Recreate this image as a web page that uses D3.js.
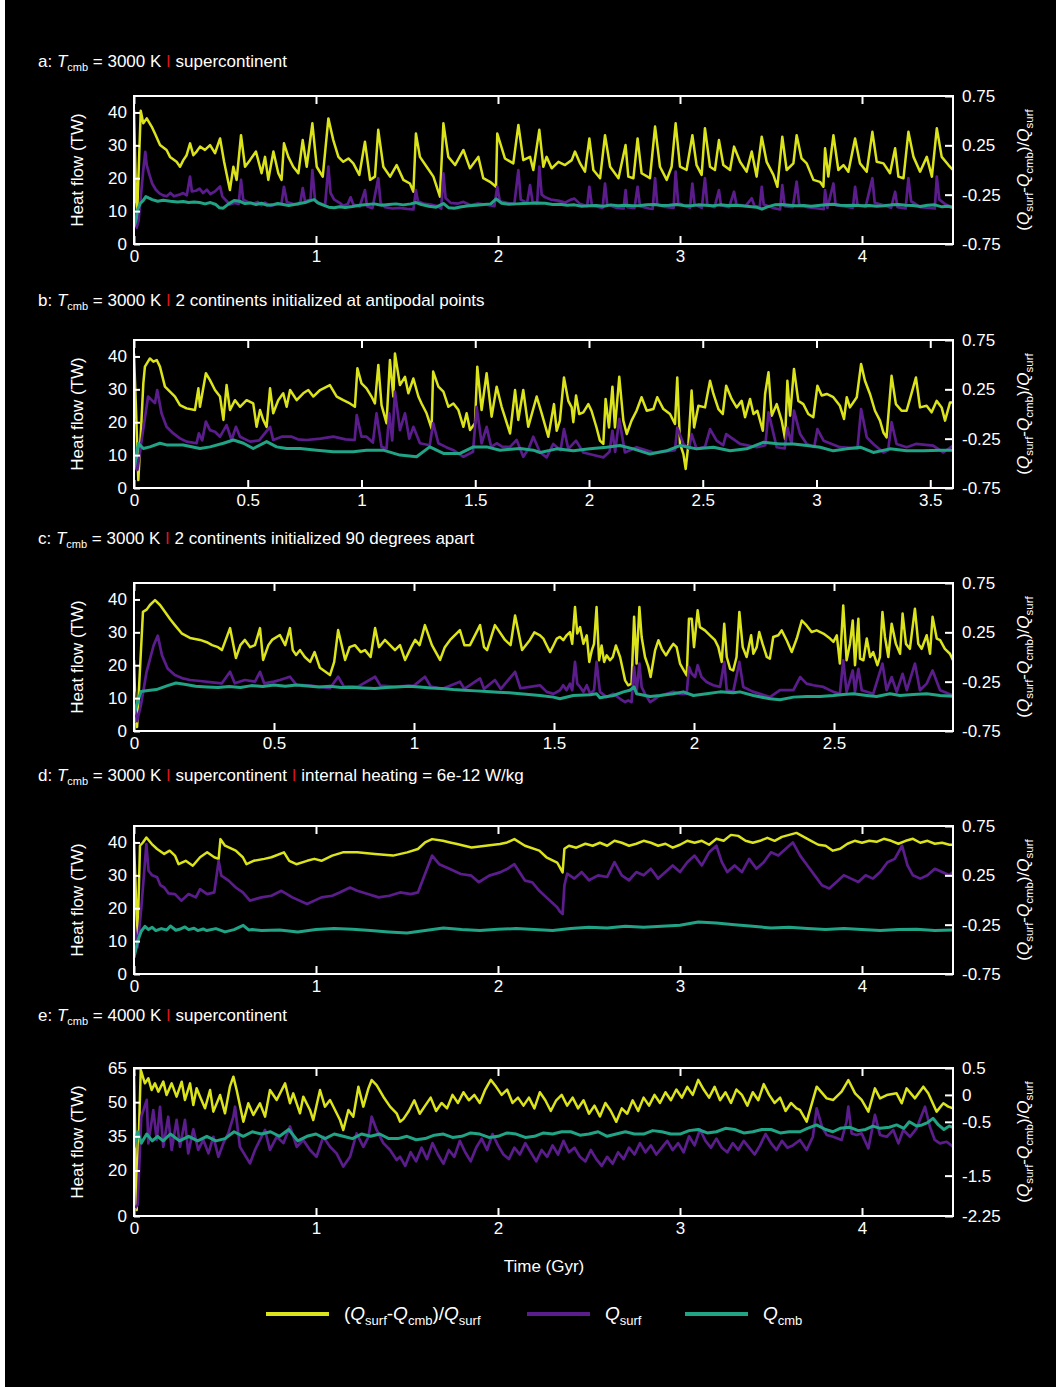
<!DOCTYPE html>
<html><head><meta charset="utf-8">
<script src="https://cdn.jsdelivr.net/npm/d3@7"></script>
<style>
html,body{margin:0;padding:0;background:#000;}
svg{display:block;font-family:"Liberation Sans",Arial,Helvetica,sans-serif;}
</style></head><body>
<svg id="chart" width="1056" height="1387"></svg>
<script>
// ---------- series: [time (Gyr), value] ----------
// ratio = (Qsurf - Qcmb) / Qsurf (right axis); surf / cmb in TW (left axis)

const aRatio = [[0,0.607],[0.015,-0.573],[0.022,-0.203],[0.037,0.6],[0.051,0.473],[0.07,0.523],[0.097,0.44],[0.115,0.37],[0.143,0.253],[0.179,0.203],[0.198,0.133],[0.234,0.083],[0.253,0.033],[0.271,0.1],[0.289,0.15],[0.308,0.27],[0.326,0.15],[0.344,0.187],[0.363,0.237],[0.39,0.203],[0.418,0.253],[0.445,0.17],[0.473,0.32],[0.495,0.083],[0.527,-0.203],[0.546,0.033],[0.564,-0.1],[0.588,0.353],[0.61,0.033],[0.637,0.1],[0.67,0.187],[0.701,-0.033],[0.72,0.133],[0.738,-0.1],[0.766,0.187],[0.793,-0.033],[0.811,-0.1],[0.824,0.27],[0.848,0.133],[0.875,0.033],[0.903,-0.033],[0.927,0.303],[0.949,0.033],[0.98,0.473],[1.004,0.033],[1.037,-0.067],[1.068,0.523],[1.095,0.303],[1.123,0.133],[1.15,0.083],[1.178,0.117],[1.205,0.067],[1.238,-0.05],[1.269,0.287],[1.297,-0.1],[1.324,-0.067],[1.342,0.407],[1.37,0.033],[1.407,-0.067],[1.443,0.05],[1.48,-0.1],[1.516,-0.137],[1.535,-0.22],[1.549,0.37],[1.571,0.133],[1.608,0.033],[1.645,-0.067],[1.681,-0.27],[1.7,0.473],[1.727,0.133],[1.764,0.05],[1.81,0.203],[1.846,0.017],[1.892,0.133],[1.919,-0.083],[1.956,-0.12],[1.989,-0.17],[1.996,0.37],[2.038,0.117],[2.084,0.067],[2.112,0.457],[2.139,0.1],[2.176,0.133],[2.194,0],[2.227,0.407],[2.249,0.033],[2.267,0.133],[2.295,0.017],[2.332,0.083],[2.368,0.05],[2.405,0.1],[2.423,0.187],[2.451,0.067],[2.478,-0.017],[2.502,0.32],[2.524,0],[2.561,-0.083],[2.588,0.353],[2.616,0.033],[2.662,-0.083],[2.701,0.253],[2.716,-0.067],[2.744,-0.083],[2.767,0.32],[2.789,-0.033],[2.835,-0.083],[2.863,0.44],[2.89,0.033],[2.927,-0.1],[2.954,0.033],[2.976,0.473],[3,0.033],[3.036,0],[3.068,0.353],[3.091,0.05],[3.119,-0.05],[3.137,0.423],[3.165,0.033],[3.192,0],[3.214,0.303],[3.238,0.05],[3.275,0],[3.297,0.237],[3.33,0.083],[3.366,-0.017],[3.394,0.187],[3.421,-0.067],[3.449,0.337],[3.476,0.083],[3.513,-0.05],[3.535,-0.17],[3.562,0.337],[3.586,0],[3.623,0.067],[3.641,0.353],[3.668,0.117],[3.696,0.067],[3.733,-0.1],[3.769,-0.12],[3.788,-0.17],[3.797,0.22],[3.815,-0.067],[3.843,0.353],[3.87,0],[3.898,0.05],[3.925,-0.017],[3.962,0.32],[3.989,0.067],[4.026,-0.017],[4.057,0.387],[4.081,0.083],[4.118,0.067],[4.154,-0.033],[4.182,0.22],[4.2,-0.067],[4.228,-0.083],[4.255,0.387],[4.283,0.133],[4.319,-0.017],[4.356,0.133],[4.384,-0.067],[4.411,0.423],[4.438,0.133],[4.475,0.05],[4.5,0]];
const aSurf = [[0,12.4],[0.008,9],[0.015,5],[0.025,7],[0.037,14],[0.05,22],[0.062,28],[0.07,24],[0.085,21],[0.1,18.4],[0.12,16.5],[0.14,15.4],[0.16,14.8],[0.18,14.5],[0.2,15.5],[0.22,14.5],[0.25,15],[0.27,15.5],[0.29,14.8],[0.308,20.5],[0.318,16],[0.34,16.2],[0.36,16.8],[0.38,15.5],[0.4,16.5],[0.42,15.2],[0.445,16],[0.473,17.5],[0.485,14.5],[0.51,13],[0.527,12],[0.55,12.5],[0.575,12.2],[0.588,19.5],[0.6,13.5],[0.63,12.6],[0.66,12.3],[0.68,12.8],[0.7,11.8],[0.72,12.6],[0.75,11.6],[0.78,12],[0.81,12.2],[0.824,17.4],[0.84,12.8],[0.87,12.2],[0.9,12],[0.915,13],[0.927,17],[0.94,13],[0.97,13.5],[0.98,22.5],[0.995,13.2],[1.02,12.4],[1.05,11.8],[1.068,23.5],[1.08,15.5],[1.1,13.5],[1.13,12.5],[1.15,11.6],[1.175,12.2],[1.19,14.2],[1.205,12],[1.24,11.4],[1.269,16.4],[1.28,11.5],[1.31,10.9],[1.342,20],[1.355,12.5],[1.38,11.2],[1.42,10.8],[1.46,11],[1.5,10.7],[1.535,10.5],[1.549,16.4],[1.56,13],[1.59,12.3],[1.63,12],[1.665,11.5],[1.688,10.8],[1.7,21.5],[1.712,14],[1.74,12.5],[1.78,12.3],[1.81,12.8],[1.85,11.8],[1.89,12.3],[1.93,12],[1.98,11.5],[1.996,17.4],[2.01,13],[2.05,12.5],[2.09,12.2],[2.112,22.5],[2.125,13.5],[2.16,12.5],[2.176,17.9],[2.19,12.8],[2.215,12.4],[2.227,23.5],[2.24,15],[2.26,14.2],[2.29,13.5],[2.33,13.2],[2.37,12.6],[2.4,13.5],[2.42,13.8],[2.45,12.2],[2.49,11.5],[2.502,17.4],[2.515,12],[2.55,11.3],[2.575,11],[2.588,18.4],[2.6,12],[2.65,11],[2.69,10.8],[2.701,16.4],[2.71,11.2],[2.75,10.9],[2.767,17.4],[2.78,11.5],[2.83,10.8],[2.85,10.7],[2.863,20],[2.875,12],[2.92,11.3],[2.965,11],[2.976,22],[2.99,12.5],[3.03,11.5],[3.055,11],[3.068,18.4],[3.08,12],[3.12,11],[3.137,20],[3.15,12],[3.19,11.2],[3.214,16.4],[3.225,11.8],[3.27,11.2],[3.297,15.9],[3.31,12],[3.36,11.5],[3.394,13.9],[3.41,11.5],[3.438,11.2],[3.449,17.4],[3.46,12],[3.51,11],[3.55,10.5],[3.562,17.9],[3.575,11.5],[3.62,11.2],[3.641,19],[3.655,12],[3.7,11.2],[3.76,10.8],[3.79,10.6],[3.797,16.4],[3.81,11],[3.843,18.4],[3.855,11.8],[3.9,11.5],[3.95,11],[3.962,17.4],[3.975,12],[4.02,11.3],[4.057,20],[4.07,12.5],[4.12,11.8],[4.16,11],[4.182,15.9],[4.195,11.2],[4.24,10.8],[4.255,20],[4.27,13],[4.32,11.2],[4.37,11],[4.4,10.8],[4.411,20.5],[4.425,13.5],[4.46,12],[4.5,11]];
const aCmb = [[0,5.3],[0.01,7],[0.02,10.5],[0.035,12.4],[0.05,13.2],[0.065,14.4],[0.08,14],[0.1,13.5],[0.13,13],[0.16,13.3],[0.2,13],[0.24,12.8],[0.27,12.9],[0.3,12.6],[0.33,12.8],[0.36,12.6],[0.39,12.2],[0.42,12.6],[0.45,12],[0.47,11],[0.49,10.9],[0.52,12.2],[0.55,13.2],[0.58,13],[0.61,12.3],[0.64,12.5],[0.67,12],[0.7,12.4],[0.73,11.8],[0.76,11.9],[0.79,12.3],[0.82,12],[0.85,11.7],[0.88,12],[0.91,12.3],[0.94,12.6],[0.97,13.2],[0.99,13.5],[1.01,12.5],[1.04,11.8],[1.07,11.2],[1.1,11],[1.13,11.3],[1.16,11.1],[1.2,11.4],[1.24,11.8],[1.28,12],[1.32,12.2],[1.36,11.8],[1.4,12],[1.44,12.2],[1.48,11.9],[1.52,12.2],[1.55,12.6],[1.58,12],[1.62,11.5],[1.66,11.2],[1.7,12.3],[1.73,11],[1.76,10.9],[1.8,11.3],[1.84,11.6],[1.88,11.8],[1.92,12],[1.96,12.2],[1.99,13.7],[2.02,12.4],[2.06,12.1],[2.1,12.2],[2.14,12.3],[2.18,12.4],[2.22,12.5],[2.26,12.4],[2.3,12],[2.34,12.1],[2.38,11.8],[2.42,11.9],[2.46,11.5],[2.5,11.6],[2.54,11.7],[2.58,11.5],[2.62,11.9],[2.66,11.6],[2.7,11.8],[2.74,11.6],[2.78,11.7],[2.82,11.9],[2.86,12],[2.9,11.7],[2.94,11.8],[2.98,12],[3.02,11.7],[3.06,11.6],[3.1,11.9],[3.14,11.8],[3.18,11.6],[3.22,11.9],[3.26,11.7],[3.3,11.8],[3.34,11.6],[3.38,11.4],[3.42,11.2],[3.45,10.6],[3.48,11.3],[3.52,11.9],[3.56,12],[3.6,11.8],[3.64,11.6],[3.68,11.7],[3.72,11.5],[3.76,11.7],[3.8,11.9],[3.84,12.1],[3.88,11.8],[3.92,11.7],[3.96,11.8],[4,11.6],[4.04,11.7],[4.08,11.5],[4.12,11.6],[4.16,11.9],[4.2,12],[4.24,11.8],[4.28,11.7],[4.32,11.4],[4.36,11.8],[4.4,11.9],[4.44,11.3],[4.47,11.5],[4.5,11.2]];

const bRatio = [[0,0.613],[0.008,0.1],[0.019,-0.67],[0.033,-0.06],[0.041,0.31],[0.048,0.48],[0.07,0.563],[0.085,0.53],[0.1,0.547],[0.114,0.48],[0.136,0.277],[0.158,0.227],[0.18,0.177],[0.202,0.09],[0.231,0.057],[0.268,0.04],[0.283,0.26],[0.29,0.073],[0.316,0.413],[0.334,0.343],[0.356,0.243],[0.378,0.177],[0.393,-0.06],[0.407,0.293],[0.422,0.04],[0.444,0.14],[0.466,0.073],[0.495,0.14],[0.524,0.107],[0.539,-0.13],[0.554,0.04],[0.568,-0.06],[0.583,-0.13],[0.598,0.26],[0.612,0.007],[0.634,0.14],[0.656,0.21],[0.671,0.073],[0.686,0.243],[0.715,0.14],[0.744,0.21],[0.766,0.243],[0.788,0.177],[0.818,0.243],[0.861,0.293],[0.891,0.177],[0.92,0.14],[0.949,0.107],[0.971,0.073],[0.982,0.463],[1,0.31],[1.022,0.26],[1.044,0.177],[1.059,0.107],[1.074,0.497],[1.088,0.09],[1.11,-0.093],[1.125,0.547],[1.14,0.177],[1.147,0.613],[1.169,0.293],[1.191,0.377],[1.206,0.21],[1.228,0.36],[1.25,0.177],[1.264,0.107],[1.286,0.007],[1.308,-0.147],[1.315,0.43],[1.338,0.277],[1.36,0.227],[1.382,0.073],[1.404,0.107],[1.426,0.04],[1.448,-0.13],[1.462,0.007],[1.477,-0.163],[1.499,-0.093],[1.509,0.48],[1.528,0.04],[1.55,0.413],[1.572,-0.027],[1.594,0.277],[1.616,0.073],[1.653,-0.197],[1.675,0.243],[1.689,-0.06],[1.711,0.243],[1.733,-0.13],[1.77,0.177],[1.792,0.007],[1.821,-0.23],[1.846,0.1],[1.858,-0.17],[1.872,-0.067],[1.89,0.37],[1.909,0.133],[1.924,0.067],[1.931,-0.083],[1.943,0.187],[1.957,0],[1.975,0.017],[1.997,0.1],[2.011,0.033],[2.033,-0.137],[2.048,-0.27],[2.063,-0.303],[2.073,0.153],[2.088,-0.137],[2.103,0.277],[2.114,-0.137],[2.133,0.377],[2.151,-0.067],[2.166,-0.203],[2.187,-0.067],[2.209,0.033],[2.231,0.17],[2.254,0.033],[2.283,0.05],[2.3,0.17],[2.327,0.05],[2.356,0],[2.378,-0.1],[2.388,0.37],[2.4,-0.303],[2.415,-0.407],[2.425,-0.557],[2.437,-0.303],[2.451,0.237],[2.462,-0.137],[2.481,0.083],[2.51,0.067],[2.532,0.337],[2.547,0.203],[2.569,0.05],[2.588,0],[2.603,0.287],[2.627,0.153],[2.649,0.067],[2.671,0.133],[2.686,-0.033],[2.708,0.153],[2.723,0],[2.74,0.033],[2.764,-0.17],[2.774,0.203],[2.789,0.423],[2.803,-0.017],[2.825,0.1],[2.847,-0.067],[2.862,-0.253],[2.872,0.337],[2.884,-0.017],[2.901,0.457],[2.92,0.133],[2.942,0.1],[2.964,0],[2.986,-0.033],[3.004,0.287],[3.023,0.187],[3.045,0.203],[3.074,0.17],[3.103,0.083],[3.121,-0.05],[3.133,0.17],[3.147,0.067],[3.177,0.17],[3.196,0.507],[3.213,0.337],[3.235,0.203],[3.257,0.033],[3.279,-0.067],[3.294,-0.187],[3.308,-0.237],[3.33,0.387],[3.349,0.1],[3.374,0.033],[3.396,0.033],[3.411,0.153],[3.437,0.37],[3.455,0.067],[3.484,0.083],[3.506,0.017],[3.528,0.133],[3.55,0.067],[3.565,-0.067],[3.587,0.117],[3.6,0.117]];
const bSurf = [[0,14.6],[0.015,5.5],[0.04,17.6],[0.062,27.8],[0.077,26.8],[0.092,25.8],[0.102,29.8],[0.121,22.7],[0.143,18.6],[0.173,16.6],[0.202,15.1],[0.231,14.1],[0.275,13.6],[0.285,16.6],[0.3,14.5],[0.316,20.2],[0.334,17.6],[0.356,17.1],[0.378,15.6],[0.407,19.1],[0.429,14.6],[0.448,18.6],[0.466,15.6],[0.51,14.1],[0.55,14.5],[0.598,18.6],[0.612,14.6],[0.649,15.6],[0.693,15.6],[0.72,14.8],[0.759,14.6],[0.82,15],[0.876,15.6],[0.93,14.8],[0.97,14.6],[0.979,22.2],[1,15.6],[1.022,15.6],[1.05,13.8],[1.066,22.7],[1.088,12.5],[1.11,12],[1.122,22.7],[1.135,14.5],[1.147,29.3],[1.169,17.6],[1.191,22.7],[1.21,15],[1.228,18.6],[1.257,13.6],[1.3,13],[1.315,19.7],[1.338,13.6],[1.37,12.5],[1.404,11.5],[1.448,9.5],[1.49,11],[1.506,24.7],[1.528,13.6],[1.55,18.6],[1.57,12.5],[1.594,13.6],[1.62,12.5],[1.653,12.5],[1.682,14.6],[1.711,9.5],[1.735,12],[1.755,15.6],[1.785,10.8],[1.814,9.3],[1.843,13.4],[1.875,11.5],[1.89,17.9],[1.909,11.9],[1.943,14.4],[1.975,10.8],[2.033,9.8],[2.063,9.3],[2.09,11],[2.103,17.4],[2.115,11],[2.133,21],[2.158,10.8],[2.209,12.4],[2.283,10.8],[2.356,11.3],[2.378,11.5],[2.388,18.4],[2.415,13.4],[2.44,12],[2.451,16.4],[2.473,11.9],[2.51,12.5],[2.532,17.9],[2.561,14.4],[2.59,13],[2.603,16.4],[2.664,13.4],[2.737,12.4],[2.775,13],[2.789,23],[2.825,12.4],[2.86,12],[2.872,18.4],[2.89,13.5],[2.901,23.5],[2.928,16.4],[2.957,13.4],[2.99,12.5],[3.004,17.9],[3.031,14.4],[3.103,12.4],[3.18,12],[3.196,24],[3.221,15.4],[3.25,13.4],[3.294,10.8],[3.315,11.5],[3.33,20],[3.352,13.4],[3.396,12.4],[3.437,13.4],[3.513,12.9],[3.557,10.8],[3.6,12.9]];
const bCmb = [[0,5.5],[0.019,13.6],[0.041,12],[0.07,12.5],[0.114,13.6],[0.143,13.1],[0.216,13.1],[0.29,12],[0.334,12.5],[0.393,13.6],[0.437,14.6],[0.481,13.6],[0.524,12],[0.583,14.1],[0.627,12.5],[0.671,12],[0.73,12],[0.803,11.5],[0.876,11],[0.964,11],[1.022,11.5],[1.095,11.5],[1.169,10],[1.242,9.5],[1.3,12.5],[1.36,10.5],[1.433,10.5],[1.492,12.5],[1.55,12.5],[1.609,11.5],[1.697,12],[1.755,11.5],[1.785,10.8],[1.858,11.9],[1.931,11.3],[2.004,11.9],[2.077,12.4],[2.136,12.9],[2.195,11.9],[2.268,10.3],[2.341,11.3],[2.4,12.9],[2.473,11.9],[2.547,12.4],[2.62,11.3],[2.693,11.9],[2.766,13.9],[2.839,13.4],[2.898,13.4],[2.957,12.9],[3.016,12.4],[3.074,11.3],[3.133,11.9],[3.192,12.4],[3.25,10.8],[3.323,11.9],[3.396,11.3],[3.469,11.3],[3.543,11.5],[3.6,11.5]];

const cRatio = [[0,-0.03],[0.004,-0.4],[0.011,-0.71],[0.02,-0.2],[0.032,0.457],[0.045,0.48],[0.057,0.527],[0.075,0.577],[0.093,0.527],[0.111,0.457],[0.13,0.38],[0.146,0.323],[0.17,0.24],[0.2,0.193],[0.236,0.173],[0.26,0.15],[0.279,0.12],[0.3,0.1],[0.314,0.07],[0.343,0.293],[0.364,-0.01],[0.38,0.12],[0.396,0.173],[0.415,0.1],[0.432,0.12],[0.45,0.293],[0.461,-0.03],[0.48,0.12],[0.493,0.173],[0.521,0.223],[0.54,0.12],[0.557,0.293],[0.567,0.07],[0.579,0.02],[0.593,0.07],[0.61,0],[0.629,-0.05],[0.645,0.05],[0.664,-0.11],[0.7,-0.183],[0.715,-0.05],[0.729,0.273],[0.754,-0.03],[0.77,0.1],[0.789,0.12],[0.81,0.05],[0.825,0.07],[0.845,0],[0.861,0.293],[0.875,0.1],[0.896,0.173],[0.932,0.07],[0.95,0.12],[0.968,-0.03],[0.99,0.1],[1.004,0.173],[1.02,0.12],[1.039,0.323],[1.064,0.12],[1.093,-0.03],[1.11,0.1],[1.129,0.173],[1.164,0.273],[1.18,0.12],[1.2,0.12],[1.236,0.323],[1.25,0.1],[1.261,0.07],[1.289,0.323],[1.325,0.173],[1.345,0.12],[1.361,0.42],[1.386,0.07],[1.414,0.173],[1.43,0.25],[1.45,0.22],[1.462,0.187],[1.474,0.117],[1.486,0.05],[1.498,0.117],[1.51,0.187],[1.521,0.203],[1.533,0.17],[1.545,0.22],[1.557,0.253],[1.565,0.133],[1.575,0.507],[1.583,0.237],[1.593,0.303],[1.605,0.133],[1.617,0.22],[1.626,-0.05],[1.635,0.067],[1.643,0.133],[1.652,0.507],[1.661,-0.033],[1.67,0.117],[1.679,-0.05],[1.688,0.017],[1.7,-0.033],[1.71,0],[1.721,0.117],[1.736,0],[1.754,-0.237],[1.765,-0.287],[1.777,-0.27],[1.786,0.407],[1.795,-0.067],[1.805,0.507],[1.813,0.203],[1.825,0],[1.837,-0.1],[1.845,-0.203],[1.861,0.067],[1.873,0.17],[1.885,0.083],[1.9,0.017],[1.914,0.083],[1.926,0.133],[1.938,0.1],[1.95,-0.067],[1.964,-0.137],[1.974,-0.187],[1.982,0.387],[1.992,0.387],[2,0.1],[2.013,0.473],[2.021,0.303],[2.039,0.27],[2.057,0.22],[2.075,0.17],[2.087,0.1],[2.099,-0.05],[2.108,0.337],[2.117,0],[2.129,-0.12],[2.14,-0.137],[2.152,0],[2.162,0.457],[2.174,0.1],[2.188,0],[2.204,0.22],[2.212,0.033],[2.224,0.1],[2.233,0.253],[2.245,0.133],[2.26,0],[2.271,-0.017],[2.283,0.203],[2.301,0.22],[2.313,0.27],[2.331,0.17],[2.349,0.05],[2.367,0.187],[2.385,0.37],[2.402,0.32],[2.42,0.253],[2.438,0.27],[2.462,0.237],[2.486,0.187],[2.498,0.153],[2.51,0.22],[2.521,-0.067],[2.533,0.523],[2.545,-0.033],[2.557,0.133],[2.567,0.37],[2.575,-0.083],[2.587,0.387],[2.593,-0.017],[2.605,-0.033],[2.617,0.187],[2.629,0],[2.64,0.05],[2.655,-0.083],[2.664,0],[2.673,0.457],[2.682,0.203],[2.694,0],[2.706,0.337],[2.721,0.133],[2.736,0.033],[2.745,0.44],[2.757,0.133],[2.771,0.083],[2.789,0.49],[2.801,0.133],[2.813,0.083],[2.831,0.22],[2.843,0.033],[2.852,0.407],[2.867,0.187],[2.879,0.17],[2.896,0.083],[2.914,0.033],[2.925,-0.033]];
const cSurf = [[0,12],[0.006,6],[0.011,3],[0.025,8],[0.045,18],[0.07,26],[0.085,29],[0.1,23],[0.12,19],[0.146,17],[0.175,16],[0.2,15.5],[0.236,15.2],[0.279,14.8],[0.314,14.5],[0.343,18],[0.36,14.5],[0.396,15.5],[0.432,15],[0.45,18],[0.465,14.5],[0.5,15],[0.521,15.5],[0.557,16.5],[0.58,14],[0.63,13.8],[0.7,13],[0.729,16.5],[0.75,13.5],[0.8,13.5],[0.861,16.5],[0.88,13.8],[0.93,13.5],[1,13.8],[1.039,16.5],[1.06,13.5],[1.1,12.8],[1.164,15],[1.18,12.8],[1.236,16],[1.25,12.8],[1.289,15.5],[1.31,12.8],[1.361,18],[1.38,13],[1.42,13.5],[1.45,13.9],[1.474,11.9],[1.498,11.3],[1.521,12.4],[1.533,13.9],[1.545,12.4],[1.557,14.4],[1.565,12.4],[1.575,21],[1.583,14.4],[1.593,13.4],[1.605,11.9],[1.617,13.9],[1.629,11.3],[1.643,12.4],[1.652,21],[1.664,11.9],[1.688,10.3],[1.712,11.3],[1.736,9.8],[1.754,8.8],[1.765,9.3],[1.777,8.8],[1.786,19.5],[1.795,11.9],[1.805,20.5],[1.813,13.4],[1.825,11.3],[1.843,8.8],[1.861,9.8],[1.879,10.8],[1.902,11.3],[1.926,11.9],[1.95,11.3],[1.974,11.3],[1.982,19.5],[1.992,17.4],[2.004,16.4],[2.013,20],[2.027,16.4],[2.045,14.9],[2.069,13.9],[2.093,13.4],[2.108,21],[2.117,12.4],[2.14,11.9],[2.162,21],[2.176,13.4],[2.212,11.9],[2.236,11.3],[2.271,10.3],[2.307,12.4],[2.355,12.4],[2.379,16.4],[2.402,14.4],[2.426,13.9],[2.462,13.4],[2.498,11.9],[2.521,11.3],[2.533,21.5],[2.545,11.9],[2.567,18.4],[2.575,11.9],[2.587,18.9],[2.599,12.4],[2.64,11.3],[2.673,20.5],[2.688,12.4],[2.706,16.4],[2.724,11.9],[2.745,17.4],[2.76,12.4],[2.789,20.5],[2.807,12.4],[2.831,14.4],[2.852,18.4],[2.879,12.4],[2.925,10.8]];
const cCmb = [[0,5],[0.01,8],[0.025,12],[0.05,12.3],[0.08,12.6],[0.12,13.8],[0.15,14.6],[0.18,14.2],[0.22,13.6],[0.26,13.4],[0.3,13.2],[0.34,13.5],[0.38,13.2],[0.42,13.8],[0.46,13.5],[0.5,14],[0.54,13.6],[0.58,14],[0.62,13.7],[0.66,13.4],[0.7,13.6],[0.74,13.2],[0.78,13.3],[0.82,13.1],[0.86,12.9],[0.9,13.2],[0.94,13.4],[0.98,13.6],[1.02,13.4],[1.06,13.1],[1.1,12.9],[1.14,12.6],[1.18,12.4],[1.22,12.2],[1.26,12],[1.3,11.8],[1.34,11.6],[1.38,11.3],[1.42,11],[1.45,10.8],[1.498,10.3],[1.521,9.8],[1.569,10.8],[1.629,11],[1.652,11.3],[1.664,10.1],[1.712,10.8],[1.748,11.9],[1.771,12.4],[1.786,13.4],[1.795,11.3],[1.843,10.5],[1.879,10.8],[1.926,11.3],[1.962,11.9],[1.998,10.8],[2.045,11.3],[2.093,11.9],[2.14,11.6],[2.164,11.9],[2.212,10.8],[2.271,9.8],[2.307,9.5],[2.355,10.3],[2.402,10.5],[2.45,10.5],[2.498,10.8],[2.533,11.1],[2.569,11.3],[2.617,10.8],[2.652,10.5],[2.7,11.3],[2.736,10.8],[2.783,11.1],[2.831,11.3],[2.879,10.8],[2.925,10.6]];

const dRatio = [[0,0.6],[0.019,-0.413],[0.033,0.55],[0.049,0.583],[0.068,0.633],[0.098,0.567],[0.127,0.517],[0.166,0.467],[0.196,0.5],[0.225,0.45],[0.245,0.363],[0.284,0.397],[0.323,0.347],[0.363,0.433],[0.402,0.483],[0.441,0.433],[0.465,0.417],[0.475,0.617],[0.5,0.55],[0.559,0.5],[0.598,0.433],[0.618,0.363],[0.657,0.397],[0.716,0.417],[0.755,0.433],[0.824,0.483],[0.853,0.397],[0.892,0.363],[0.951,0.397],[0.991,0.417],[1.03,0.397],[1.089,0.45],[1.148,0.483],[1.226,0.483],[1.324,0.467],[1.423,0.45],[1.501,0.483],[1.56,0.517],[1.599,0.583],[1.638,0.617],[1.697,0.6],[1.736,0.583],[1.775,0.567],[1.854,0.533],[1.932,0.55],[2.011,0.567],[2.05,0.583],[2.09,0.617],[2.148,0.55],[2.227,0.5],[2.266,0.433],[2.325,0.38],[2.34,0.33],[2.355,0.28],[2.365,0.52],[2.39,0.55],[2.43,0.53],[2.48,0.57],[2.52,0.55],[2.56,0.58],[2.6,0.55],[2.64,0.6],[2.68,0.58],[2.72,0.55],[2.76,0.57],[2.8,0.6],[2.84,0.58],[2.88,0.55],[2.92,0.57],[2.96,0.53],[3,0.56],[3.04,0.6],[3.08,0.58],[3.12,0.6],[3.16,0.56],[3.2,0.62],[3.24,0.6],[3.28,0.66],[3.32,0.65],[3.36,0.6],[3.4,0.58],[3.44,0.6],[3.48,0.63],[3.52,0.6],[3.56,0.64],[3.6,0.66],[3.64,0.68],[3.68,0.64],[3.72,0.6],[3.76,0.56],[3.8,0.55],[3.84,0.5],[3.88,0.52],[3.92,0.57],[3.96,0.6],[4,0.58],[4.04,0.6],[4.08,0.59],[4.12,0.62],[4.16,0.6],[4.2,0.57],[4.24,0.6],[4.28,0.62],[4.32,0.58],[4.36,0.6],[4.4,0.57],[4.44,0.58],[4.48,0.56],[4.5,0.56]];
const dSurf = [[0,16.2],[0.019,8.1],[0.04,20],[0.068,39.5],[0.08,31.4],[0.1,30],[0.127,29.4],[0.145,27],[0.166,26.3],[0.19,24.5],[0.225,24.3],[0.26,22.3],[0.3,24.3],[0.34,23.3],[0.363,25.8],[0.402,24.3],[0.441,24.8],[0.465,34.4],[0.48,29.9],[0.52,28.4],[0.559,26.3],[0.598,24.8],[0.637,22.3],[0.7,23.3],[0.755,23.8],[0.81,25.3],[0.87,23.3],[0.951,21.3],[1.03,23.3],[1.089,23.8],[1.13,24.8],[1.187,26.3],[1.226,25.3],[1.285,24.3],[1.344,23.3],[1.403,23.8],[1.462,24.8],[1.521,24.3],[1.56,24.8],[1.599,30.4],[1.638,36],[1.677,33.4],[1.736,31.9],[1.795,30.4],[1.854,29.9],[1.894,27.9],[1.952,29.9],[2.011,30.9],[2.05,31.9],[2.09,33.4],[2.148,28.4],[2.188,27.9],[2.227,25.3],[2.266,23.3],[2.325,20.3],[2.34,19],[2.355,18.2],[2.365,27],[2.38,30.5],[2.42,29],[2.46,31],[2.5,28.5],[2.55,30],[2.6,29.5],[2.64,34],[2.68,30],[2.72,28.5],[2.76,31],[2.8,30],[2.84,32],[2.88,29],[2.92,31],[2.96,33],[3,31],[3.04,34],[3.08,36],[3.12,33],[3.16,37],[3.2,39],[3.23,34],[3.26,31],[3.3,33],[3.34,31],[3.38,35],[3.42,32],[3.46,34],[3.5,37],[3.54,36],[3.58,38],[3.62,40],[3.66,36],[3.7,33],[3.74,30],[3.78,27],[3.82,26],[3.86,28],[3.9,30],[3.94,29],[3.98,28],[4.02,30],[4.06,29],[4.1,31],[4.14,34],[4.18,35],[4.22,39],[4.25,33],[4.28,30],[4.32,29],[4.36,30],[4.4,32],[4.44,31],[4.48,30],[4.5,31]];
const dCmb = [[0,5],[0.02,10],[0.04,13],[0.06,14.5],[0.08,13.5],[0.1,14.2],[0.12,13.2],[0.15,13.8],[0.18,13.4],[0.2,14.6],[0.23,13.3],[0.25,13.6],[0.28,14.3],[0.3,13.5],[0.33,13.9],[0.35,13.2],[0.38,13.7],[0.4,13.2],[0.45,13.8],[0.5,12.8],[0.55,13.5],[0.6,14.8],[0.63,13.4],[0.65,13.5],[0.7,13.2],[0.8,13.4],[0.9,12.8],[1,13.5],[1.1,13.8],[1.2,13.6],[1.3,13.2],[1.4,12.8],[1.5,12.5],[1.6,13.2],[1.7,14],[1.8,13.5],[1.9,13.2],[2,13.6],[2.1,13.8],[2.2,13.5],[2.3,13.2],[2.4,13.8],[2.5,14.2],[2.6,14],[2.7,14.5],[2.8,14.2],[2.9,14.5],[3,14.8],[3.1,15.8],[3.2,15.5],[3.3,15],[3.4,14.5],[3.5,14],[3.6,14.2],[3.7,13.8],[3.8,13.5],[3.9,13.8],[4,13.5],[4.1,13.2],[4.2,13.5],[4.3,13.6],[4.4,13.2],[4.5,13.4]];

const eRatio = [[0,0.401],[0.015,-2.139],[0.037,0.463],[0.06,0.215],[0.079,0.308],[0.097,0.091],[0.115,0.215],[0.134,0.06],[0.161,0.246],[0.179,-0.002],[0.207,0.215],[0.234,-0.033],[0.262,0.246],[0.28,-0.094],[0.308,0.215],[0.326,-0.187],[0.344,0.122],[0.363,-0.033],[0.39,-0.249],[0.418,0.091],[0.436,-0.311],[0.473,-0.002],[0.5,-0.342],[0.527,0.153],[0.546,0.339],[0.564,0.091],[0.601,-0.497],[0.628,-0.156],[0.656,-0.373],[0.692,-0.156],[0.72,-0.404],[0.747,0.091],[0.784,-0.094],[0.83,0.215],[0.857,-0.156],[0.875,0.029],[0.912,-0.342],[0.93,-0.033],[0.967,-0.28],[0.985,-0.466],[1.022,0.091],[1.049,-0.218],[1.077,-0.094],[1.132,-0.466],[1.15,-0.652],[1.178,-0.28],[1.205,-0.404],[1.233,0.153],[1.26,-0.218],[1.288,0.122],[1.306,0.277],[1.333,0.184],[1.37,-0.033],[1.407,-0.218],[1.443,-0.342],[1.462,-0.497],[1.48,-0.45],[1.51,-0.3],[1.54,-0.1],[1.57,-0.35],[1.6,-0.2],[1.63,-0.05],[1.66,-0.3],[1.69,-0.15],[1.72,-0.25],[1.75,0],[1.78,-0.15],[1.81,0.05],[1.84,-0.1],[1.87,0],[1.9,-0.15],[1.93,0.1],[1.96,0.28],[1.99,0.15],[2.02,0],[2.05,0.1],[2.08,-0.15],[2.11,-0.05],[2.14,-0.2],[2.17,-0.05],[2.2,-0.25],[2.23,0.05],[2.26,-0.1],[2.29,-0.3],[2.32,-0.1],[2.35,0],[2.38,-0.2],[2.41,-0.05],[2.44,-0.25],[2.47,-0.1],[2.5,-0.35],[2.53,-0.2],[2.56,-0.4],[2.59,-0.15],[2.62,-0.3],[2.65,-0.5],[2.68,-0.25],[2.71,-0.35],[2.74,-0.1],[2.77,-0.3],[2.8,-0.05],[2.83,-0.2],[2.86,0],[2.89,-0.15],[2.92,0.05],[2.95,-0.1],[2.98,0.1],[3.01,-0.05],[3.04,0.15],[3.07,0],[3.1,0.28],[3.13,0.1],[3.16,-0.05],[3.19,0.15],[3.22,-0.1],[3.25,0.05],[3.28,-0.15],[3.31,0.1],[3.34,0],[3.37,-0.2],[3.4,0.05],[3.43,-0.1],[3.46,0.2],[3.49,0],[3.52,-0.15],[3.55,-0.05],[3.58,-0.3],[3.61,-0.15],[3.64,-0.25],[3.659,-0.28],[3.696,-0.497],[3.751,0.153],[3.806,-0.064],[3.842,-0.094],[3.888,0.06],[3.925,0.277],[3.962,0.029],[3.998,-0.094],[4.035,-0.311],[4.071,0.122],[4.099,-0.064],[4.136,-0.002],[4.19,0.029],[4.218,-0.156],[4.245,0.122],[4.291,-0.064],[4.337,0.153],[4.364,0.029],[4.41,-0.311],[4.447,-0.156],[4.474,-0.218],[4.5,-0.249]];
const eSurf = [[0,2.6],[0.02,5],[0.04,43.6],[0.07,51],[0.079,31.9],[0.106,46.5],[0.125,33.4],[0.143,47.9],[0.161,30.4],[0.188,43.6],[0.207,29],[0.234,42.2],[0.253,30.4],[0.28,42.2],[0.298,27.5],[0.326,38.1],[0.353,29],[0.381,33.4],[0.409,27.5],[0.436,34.8],[0.464,26],[0.491,32],[0.518,36.3],[0.546,43.6],[0.555,48],[0.582,30.4],[0.637,23.1],[0.665,29],[0.692,33.4],[0.72,37.8],[0.747,29],[0.784,34.8],[0.821,32],[0.857,39.3],[0.894,30.4],[0.93,33.4],[0.967,29],[1.003,26],[1.04,34.8],[1.077,30.4],[1.113,27.5],[1.15,21.7],[1.187,26],[1.223,36.3],[1.26,30.4],[1.288,34.8],[1.306,43.6],[1.333,37.8],[1.37,32],[1.407,29],[1.443,24.6],[1.462,26],[1.49,22],[1.52,28],[1.55,24],[1.58,30],[1.61,25],[1.64,32],[1.67,27],[1.7,23],[1.73,29],[1.76,26],[1.79,33],[1.82,28],[1.85,24],[1.88,30],[1.91,34],[1.94,29],[1.97,36],[2,31],[2.03,27],[2.06,25],[2.09,30],[2.12,27],[2.15,32],[2.18,28],[2.21,24],[2.24,29],[2.27,26],[2.3,31],[2.33,27],[2.36,33],[2.39,28],[2.42,30],[2.45,26],[2.48,24],[2.51,29],[2.54,25],[2.57,22],[2.6,26],[2.63,23],[2.66,28],[2.69,25],[2.72,30],[2.75,27],[2.78,32],[2.81,28],[2.84,31],[2.87,27],[2.9,30],[2.93,33],[2.96,29],[2.99,32],[3.02,28],[3.05,35],[3.08,31],[3.11,38],[3.14,33],[3.17,30],[3.2,34],[3.23,30],[3.26,28],[3.29,32],[3.32,29],[3.35,33],[3.38,30],[3.41,27],[3.44,31],[3.47,36],[3.5,32],[3.53,29],[3.56,33],[3.59,30],[3.62,31],[3.659,33.4],[3.696,29],[3.73,34.8],[3.751,47.3],[3.78,39.2],[3.806,35.6],[3.842,34.8],[3.888,33.4],[3.915,41.4],[3.925,48],[3.943,36.3],[3.97,35.6],[3.998,36.3],[4.035,29.7],[4.071,44.4],[4.099,35.6],[4.136,34.8],[4.172,37.8],[4.2,31.9],[4.227,37.8],[4.264,34.8],[4.3,38.5],[4.346,48],[4.373,39.2],[4.4,33.4],[4.428,31.9],[4.465,32.6],[4.5,30.4]];
const eCmb = [[0,30],[0.02,37],[0.04,32],[0.07,36],[0.1,33],[0.13,35],[0.16,33],[0.2,36],[0.25,33],[0.3,35],[0.35,33],[0.4,35],[0.45,33],[0.5,34],[0.55,37],[0.6,35],[0.65,37],[0.7,36],[0.75,37],[0.8,35],[0.85,38],[0.9,33],[0.95,35],[1,36],[1.05,34],[1.1,36],[1.15,35],[1.2,34],[1.25,36],[1.3,35],[1.35,36],[1.4,34],[1.45,34],[1.5,35],[1.55,33.5],[1.6,34],[1.65,35.5],[1.7,36],[1.75,34.5],[1.8,35],[1.85,36.5],[1.9,36],[1.95,34.5],[2,35],[2.05,36.5],[2.1,36],[2.15,34.5],[2.2,35],[2.25,36.5],[2.3,36],[2.35,37],[2.4,37],[2.45,35.5],[2.5,36],[2.55,37],[2.6,35],[2.65,36],[2.7,37],[2.75,36],[2.8,36],[2.85,37.5],[2.9,37],[2.95,36],[3,36],[3.05,37.5],[3.1,38],[3.15,36.5],[3.2,37],[3.25,38.5],[3.3,38],[3.35,36.5],[3.4,37],[3.45,38],[3.5,38],[3.55,36.5],[3.6,37],[3.66,37],[3.7,38.5],[3.75,40],[3.8,38],[3.84,37],[3.88,38.5],[3.93,39],[3.98,37.5],[4.02,38],[4.06,39.5],[4.1,38.5],[4.15,39],[4.19,40],[4.23,38.5],[4.26,41.4],[4.3,39.5],[4.33,40],[4.36,41],[4.39,42.9],[4.42,40],[4.45,38],[4.48,39.5],[4.5,39]];

// ---------- axes and labels ----------
const xTicksFull = [0, 1, 2, 3, 4];
const xTicksB = [0, 0.5, 1, 1.5, 2, 2.5, 3, 3.5];
const xTicksC = [0, 0.5, 1, 1.5, 2, 2.5];
const heatTicks = [0, 10, 20, 30, 40];
const heatTicksE = [0, 20, 35, 50, 65];
const ratioTicks = [0.75, 0.25, -0.25, -0.75];
const ratioTicksE = [0.5, 0, -0.5, -1.5, -2.25];
const panelLetters = ["a", "b", "c", "d", "e"];
const cmbTemps = ["3000 K", "3000 K", "3000 K", "3000 K", "4000 K"];
const titleParts = [
  ["supercontinent"],
  ["2 continents initialized at antipodal points"],
  ["2 continents initialized 90 degrees apart"],
  ["supercontinent", "internal heating = 6e-12 W/kg"],
  ["supercontinent"]
];
const timeMax = [4.5, 3.6, 2.925, 4.5, 4.5];
const heatMax = [45, 45, 45, 45, 65];
const ratioRange = [[-0.75, 0.75], [-0.75, 0.75], [-0.75, 0.75], [-0.75, 0.75], [-2.25, 0.5]];

const panels = [
  {ratio: aRatio, surf: aSurf, cmb: aCmb, xt: xTicksFull, yt: heatTicks, rt: ratioTicks},
  {ratio: bRatio, surf: bSurf, cmb: bCmb, xt: xTicksB, yt: heatTicks, rt: ratioTicks},
  {ratio: cRatio, surf: cSurf, cmb: cCmb, xt: xTicksC, yt: heatTicks, rt: ratioTicks},
  {ratio: dRatio, surf: dSurf, cmb: dCmb, xt: xTicksFull, yt: heatTicks, rt: ratioTicks},
  {ratio: eRatio, surf: eSurf, cmb: eCmb, xt: xTicksFull, yt: heatTicksE, rt: ratioTicksE}
];

// ---------- layout ----------
const W = 1056, H = 1387;
const left = 134, right = 953, plotH = 148;
const tops = [96, 340, 583, 826, 1068];
const titleY = [67, 306, 544, 781, 1021];
const colors = {ratio: "#dbe31b", surf: "#5b1c8c", cmb: "#21a385"};
const fontFamily = '"Liberation Sans", Arial, Helvetica, sans-serif';

const svg = d3.select("#chart");
svg.append("rect").attr("width", W).attr("height", H).attr("fill", "#000");
svg.append("rect").attr("x", 0).attr("y", 0).attr("width", 5).attr("height", H).attr("fill", "#fff");

const fmt = d => String(d);

panels.forEach((p, i) => {
  const top = tops[i], bottom = top + plotH;
  const x = d3.scaleLinear().domain([0, timeMax[i]]).range([left, right]);
  const y = d3.scaleLinear().domain([0, heatMax[i]]).range([bottom, top]);
  const yr = d3.scaleLinear().domain(ratioRange[i]).range([bottom, top]);

  const g = svg.append("g");

  // panel title
  const t = g.append("text").attr("x", 38).attr("y", titleY[i])
    .attr("fill", "#fff").attr("font-size", 17).attr("font-family", fontFamily);
  t.append("tspan").text(panelLetters[i] + ": ");
  t.append("tspan").attr("font-style", "italic").text("T");
  t.append("tspan").attr("font-size", 11).attr("dy", 4).text("cmb");
  t.append("tspan").attr("dy", -4).text(" = " + cmbTemps[i] + " ");
  titleParts[i].forEach((part, k) => {
    t.append("tspan").attr("fill", "#d8141c").text("I");
    t.append("tspan").text(" " + part + (k < titleParts[i].length - 1 ? " " : ""));
  });

  // clipped series
  const clipId = "clip" + i;
  svg.append("clipPath").attr("id", clipId).append("rect")
    .attr("x", left).attr("y", top).attr("width", right - left).attr("height", plotH);
  const lines = g.append("g").attr("clip-path", `url(#${clipId})`);
  const lineL = d3.line().x(d => x(d[0])).y(d => y(d[1]));
  const lineR = d3.line().x(d => x(d[0])).y(d => yr(d[1]));
  lines.append("path").datum(p.ratio).attr("d", lineR).attr("fill", "none")
    .attr("stroke", colors.ratio).attr("stroke-width", 2.5).attr("stroke-linejoin", "round");
  lines.append("path").datum(p.surf).attr("d", lineL).attr("fill", "none")
    .attr("stroke", colors.surf).attr("stroke-width", 2.7).attr("stroke-linejoin", "round");
  lines.append("path").datum(p.cmb).attr("d", lineL).attr("fill", "none")
    .attr("stroke", colors.cmb).attr("stroke-width", 3).attr("stroke-linejoin", "round");

  // axes (ticks point inward)
  const styleAxis = sel => {
    sel.select(".domain").remove();
    sel.selectAll("line").attr("stroke", "#fff").attr("stroke-width", 2);
    sel.selectAll("text").attr("fill", "#fff").attr("font-size", 17).attr("font-family", fontFamily);
  };
  g.append("g").attr("transform", `translate(0,${bottom})`)
    .call(d3.axisBottom(x).tickValues(p.xt).tickFormat(fmt).tickSize(-8).tickPadding(6)).call(styleAxis);
  g.append("g").attr("transform", `translate(0,${top})`)
    .call(d3.axisTop(x).tickValues(p.xt).tickFormat("").tickSize(-8)).call(styleAxis);
  g.append("g").attr("transform", `translate(${left},0)`)
    .call(d3.axisLeft(y).tickValues(p.yt).tickFormat(fmt).tickSize(-6).tickPadding(7)).call(styleAxis);
  g.append("g").attr("transform", `translate(${right},0)`)
    .call(d3.axisRight(yr).tickValues(p.rt).tickFormat(fmt).tickSize(-8).tickPadding(9)).call(styleAxis);

  // frame
  g.append("rect").attr("x", left).attr("y", top).attr("width", right - left).attr("height", plotH)
    .attr("fill", "none").attr("stroke", "#fff").attr("stroke-width", 2);

  // axis titles
  const midY = top + plotH / 2;
  g.append("text").attr("transform", `translate(79,${midY}) rotate(-90)`)
    .attr("text-anchor", "middle").attr("dominant-baseline", "middle")
    .attr("fill", "#fff").attr("font-size", 17).attr("font-family", fontFamily)
    .text("Heat flow (TW)");
  const rl = g.append("text").attr("transform", `translate(1029,${midY}) rotate(-90)`)
    .attr("text-anchor", "middle")
    .attr("fill", "#fff").attr("font-size", 17).attr("font-family", fontFamily);
  rl.append("tspan").text("(");
  rl.append("tspan").attr("font-style", "italic").text("Q");
  rl.append("tspan").attr("font-size", 11.5).attr("dy", 4).text("surf");
  rl.append("tspan").attr("dy", -4).text("-");
  rl.append("tspan").attr("font-style", "italic").text("Q");
  rl.append("tspan").attr("font-size", 11.5).attr("dy", 4).text("cmb");
  rl.append("tspan").attr("dy", -4).text(")/");
  rl.append("tspan").attr("font-style", "italic").text("Q");
  rl.append("tspan").attr("font-size", 11.5).attr("dy", 4).text("surf");
});

// shared time-axis title
svg.append("text").attr("x", 544).attr("y", 1272).attr("text-anchor", "middle")
  .attr("fill", "#fff").attr("font-size", 17).attr("font-family", fontFamily).text("Time (Gyr)");

// legend
const legendItems = [
  {key: "ratio", x: 266, parts: [["(", 0], ["Q", 1], ["surf", 2], ["-", 0], ["Q", 1], ["cmb", 2], [")/", 0], ["Q", 1], ["surf", 2]]},
  {key: "surf", x: 527, parts: [["Q", 1], ["surf", 2]]},
  {key: "cmb", x: 685, parts: [["Q", 1], ["cmb", 2]]}
];
const legY = 1314;
legendItems.forEach(item => {
  svg.append("line").attr("x1", item.x).attr("x2", item.x + 63).attr("y1", legY).attr("y2", legY)
    .attr("stroke", colors[item.key]).attr("stroke-width", 4);
  const tx = svg.append("text").attr("x", item.x + 78).attr("y", legY + 6)
    .attr("fill", "#fff").attr("font-size", 19).attr("font-family", fontFamily);
  let shifted = false;
  item.parts.forEach(([s, kind]) => {
    const ts = tx.append("tspan").text(s);
    if (kind === 1) ts.attr("font-style", "italic");
    if (kind === 2) { ts.attr("font-size", 13).attr("dy", shifted ? 0 : 5); shifted = true; }
    else if (shifted) { ts.attr("dy", -5); shifted = false; }
  });
});
</script></body></html>
